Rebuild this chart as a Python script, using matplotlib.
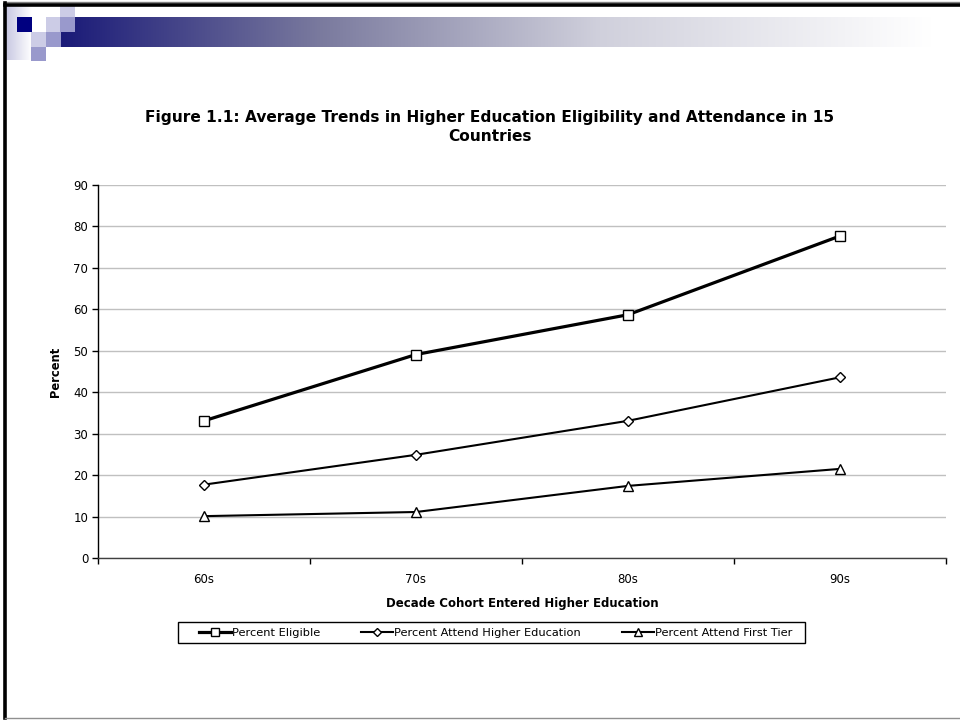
import numpy as np
import matplotlib
matplotlib.use("Agg")
import matplotlib.pyplot as plt
from matplotlib.patches import Rectangle
from matplotlib.lines import Line2D

plt.rcParams['font.family'] = ['DejaVu Sans']

# ---- data ----
decades = ["60s", "70s", "80s", "90s"]
pct_eligible = [33.1, 49.1, 58.7, 77.7]
pct_attend_higher = [17.7, 24.9, 33.1, 43.6]
pct_attend_first = [10.1, 11.1, 17.4, 21.5]
y_ticks = [0, 10, 20, 30, 40, 50, 60, 70, 80, 90]

W, H = 960, 721
fig = plt.figure(figsize=(W / 100, H / 100), dpi=100)
fig.patch.set_facecolor("white")


def fx(x):
    return x / W


def fy(y):
    return 1 - y / H


def px_rect(x0, y0, x1, y1, color, edge="none", lw=0.0, z=2):
    fig.add_artist(Rectangle((fx(x0), fy(y1)), fx(x1 - x0), (y1 - y0) / H,
                             transform=fig.transFigure, facecolor=color,
                             edgecolor=edge, linewidth=lw, zorder=z))


# ---- slide decoration: gradient banner and squares ----
strip_ax = fig.add_axes([fx(6), fy(60), fx(25), 54 / H])
strip_ax.axis("off")
t = np.linspace(0, 1, 64)
c0 = np.array([200, 200, 226]) / 255
strip = (c0[None, :] * (1 - t[:, None]) + t[:, None])[None, :, :]
strip_ax.imshow(strip, aspect="auto", extent=[0, 1, 0, 1])
strip_ax.set_xlim(0, 1)
strip_ax.set_ylim(0, 1)

band_ax = fig.add_axes([fx(61), fy(47), fx(W - 61), 30 / H])
band_ax.axis("off")
xs = np.linspace(61, W, 600)
stops_x = [61, 320, 600, 930, W]
stops_c = np.array([[26, 26, 120], [122, 122, 158], [208, 208, 220],
                    [255, 255, 255], [255, 255, 255]]) / 255
band = np.stack([np.interp(xs, stops_x, stops_c[:, k]) for k in range(3)], axis=1)
band_ax.imshow(band[None, :, :], aspect="auto", extent=[0, 1, 0, 1])
band_ax.set_xlim(0, 1)
band_ax.set_ylim(0, 1)

light = "#ccccE6"
mid = "#9999CC"
navy = "#000080"
px_rect(60, 6, 75, 17, light)
px_rect(17, 17, 32, 32, navy)
px_rect(32, 17, 46, 32, "white")
px_rect(46, 17, 60, 32, light)
px_rect(60, 17, 75, 32, mid)
px_rect(31, 32, 46, 47, light)
px_rect(46, 32, 61, 47, mid)
px_rect(31, 47, 46, 61, mid)

# slide frame
fig.add_artist(Line2D([fx(4.5), fx(W)], [fy(2), fy(2)], transform=fig.transFigure,
                      color="#808080", lw=1.0, zorder=3))
fig.add_artist(Line2D([fx(4.5), fx(W)], [fy(4.5), fy(4.5)], transform=fig.transFigure,
                      color="black", lw=2.6, zorder=3))
fig.add_artist(Line2D([fx(4.5), fx(4.5)], [fy(3), fy(718)], transform=fig.transFigure,
                      color="black", lw=2.6, zorder=3))
fig.add_artist(Line2D([fx(4.5), fx(W)], [fy(717.5), fy(717.5)], transform=fig.transFigure,
                      color="#909090", lw=1.0, zorder=3))

# ---- chart ----
ax_l, ax_r, ax_t, ax_b = 98, 946, 185, 558
ax = fig.add_axes([fx(ax_l), fy(ax_b), fx(ax_r - ax_l), (ax_b - ax_t) / H])
x = np.arange(len(decades))

ax.plot(x, pct_eligible, color="black", lw=2.3, marker="s", ms=7.2,
        mfc="white", mec="black", mew=1.0, label="Percent Eligible", zorder=5)
ax.plot(x, pct_attend_higher, color="black", lw=1.5, marker="D", ms=5.3,
        mfc="white", mec="black", mew=1.0, label="Percent Attend Higher Education", zorder=5)
ax.plot(x, pct_attend_first, color="black", lw=1.5, marker="^", ms=7.5,
        mfc="white", mec="black", mew=1.0, label="Percent Attend First Tier", zorder=5)

ax.set_xlim(-0.5, len(decades) - 0.5)
ax.set_ylim(0, 90)
ax.set_yticks(y_ticks)
ax.set_yticklabels([str(v) for v in y_ticks], fontsize=8.5)
ax.yaxis.grid(True, color="#c0c0c0", lw=1.0)
ax.set_axisbelow(True)

ax.set_xticks(x)
ax.set_xticklabels(decades, fontsize=8.5)
ax.tick_params(axis="x", length=0, pad=11)
ax.set_xticks(np.arange(-0.5, len(decades)), minor=True)
ax.tick_params(axis="x", which="minor", length=4, direction="out", width=1)
ax.tick_params(axis="y", length=4, direction="out", width=1, pad=3)

for side in ("top", "right"):
    ax.spines[side].set_visible(False)
ax.spines["left"].set_linewidth(1.0)
ax.spines["bottom"].set_linewidth(1.0)
ax.spines["bottom"].set_color("#404040")

ax.set_ylabel("Percent", fontsize=8.3, fontweight="bold", labelpad=8)
ax.set_xlabel("Decade Cohort Entered Higher Education", fontsize=8.5,
              fontweight="bold", labelpad=8)

fig.text(fx(490), fy(127),
         "Figure 1.1: Average Trends in Higher Education Eligibility and Attendance in 15\nCountries",
         ha="center", va="center", fontsize=11.1, fontweight="bold", linespacing=1.3)

# legend entries without their own frame; the box is drawn separately
leg = fig.legend(loc="center", bbox_to_anchor=(fx(495.5), fy(632.5)), ncol=3,
                 fontsize=8.2, frameon=False,
                 handlelength=2.8, handletextpad=0.1, columnspacing=3.6,
                 borderpad=0.0, borderaxespad=0, markerscale=0.75)
px_rect(178, 622, 805, 643, "white", edge="black", lw=1.0, z=1)

fig.savefig("out.png", dpi=100, facecolor="white")
